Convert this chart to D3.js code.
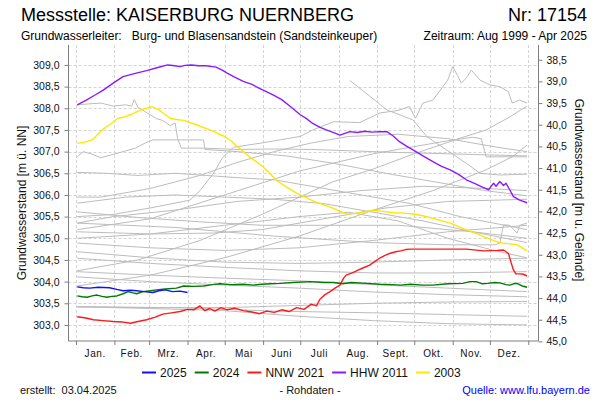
<!DOCTYPE html>
<html><head><meta charset="utf-8">
<script src="https://cdn.jsdelivr.net/npm/d3@7"></script>
<style>body{margin:0;background:#fff}svg{display:block;font-family:Arial,"Liberation Sans",sans-serif}</style>
</head><body><svg id="c" width="600" height="400"></svg>
<script>
// ---------- data (day of year, level m ü. NN) ----------
const monthLabels = ["Jan.","Feb.","Mrz.","Apr.","Mai","Juni","Juli","Aug.","Sept.","Okt.","Nov.","Dez."];
const monthStarts = [0,31,59,90,120,151,181,212,243,273,304,334,365];
const leftTicks = [303.0,303.5,304.0,304.5,305.0,305.5,306.0,306.5,307.0,307.5,308.0,308.5,309.0];
const rightTicks = [38.5,39.0,39.5,40.0,40.5,41.0,41.5,42.0,42.5,43.0,43.5,44.0,44.5,45.0];
const groundLevel = 347.62;
const legendLabels = ["2025","2024","NNW 2021","HHW 2011","2003"];
const legendColors = ["#1010ff","#007a00","#ff1a1a","#8c1aff","#ffe600"];

const s2025 = [[1,303.88],[6,303.86],[11,303.85],[18,303.87],[27,303.86],[33,303.82],[38,303.79],[44,303.8],[49,303.79],[55,303.77],[62,303.75],[67,303.79],[72,303.81],[78,303.77],[84,303.78],[90,303.75]];
const s2024 = [[1,303.67],[5,303.65],[9,303.64],[13,303.67],[17,303.69],[21,303.66],[25,303.64],[29,303.66],[33,303.67],[38,303.72],[42,303.77],[46,303.74],[49,303.72],[54,303.77],[60,303.79],[65,303.81],[72,303.83],[81,303.85],[87,303.9],[95,303.89],[103,303.9],[110,303.93],[116,303.95],[125,303.93],[135,303.94],[143,303.92],[150,303.94],[157,303.95],[165,303.96],[175,303.98],[189,304.0],[200,303.98],[208,303.98],[215,303.95],[222,303.98],[235,303.96],[245,303.94],[255,303.93],[262,303.92],[270,303.94],[280,303.92],[288,303.92],[300,303.95],[312,303.96],[318,304.0],[323,304.0],[328,303.95],[332,303.96],[338,303.98],[342,303.97],[347,303.93],[350,303.92],[353,303.95],[356,303.96],[360,303.9],[364,303.87]];
const s2021 = [[1,303.19],[8,303.16],[14,303.12],[22,303.1],[30,303.08],[37,303.07],[44,303.04],[50,303.08],[57,303.12],[64,303.18],[70,303.25],[77,303.28],[84,303.31],[90,303.36],[95,303.35],[100,303.44],[104,303.33],[108,303.38],[112,303.32],[117,303.4],[122,303.35],[128,303.39],[135,303.33],[142,303.3],[148,303.26],[154,303.32],[160,303.29],[166,303.35],[172,303.31],[178,303.4],[184,303.36],[190,303.48],[194,303.44],[197,303.6],[201,303.7],[205,303.77],[209,303.85],[213,303.92],[216,304.08],[218,304.15],[223,304.2],[228,304.27],[232,304.32],[237,304.38],[241,304.46],[245,304.54],[249,304.6],[253,304.65],[258,304.69],[262,304.71],[266,304.74],[270,304.75],[288,304.75],[315,304.75],[329,304.71],[340,304.72],[345,304.73],[349,304.65],[351,304.45],[353,304.27],[355,304.18],[358,304.18],[361,304.17],[364,304.13]];
const s2011 = [[1,308.08],[8,308.18],[15,308.3],[22,308.42],[30,308.58],[38,308.73],[47,308.8],[57,308.87],[66,308.94],[74,309.0],[80,308.98],[84,308.96],[88,308.99],[93,309.0],[99,308.98],[105,308.98],[113,308.95],[118,308.88],[122,308.81],[128,308.72],[135,308.62],[142,308.55],[148,308.46],[154,308.38],[159,308.31],[166,308.2],[173,308.04],[181,307.85],[186,307.76],[191,307.65],[197,307.56],[202,307.5],[208,307.44],[213,307.38],[217,307.42],[221,307.46],[227,307.44],[233,307.47],[239,307.45],[245,307.46],[251,307.46],[256,307.36],[261,307.23],[267,307.12],[272,307.04],[280,306.9],[288,306.77],[295,306.66],[302,306.58],[309,306.47],[315,306.35],[322,306.26],[328,306.18],[333,306.12],[335,306.2],[337,306.27],[339,306.2],[342,306.31],[345,306.22],[347,306.27],[350,306.12],[353,305.96],[358,305.88],[364,305.82]];
const s2003 = [[1,307.19],[7,307.22],[13,307.27],[17,307.38],[21,307.5],[27,307.62],[34,307.77],[39,307.8],[44,307.85],[52,307.96],[57,308.0],[61,308.04],[66,307.98],[71,307.88],[76,307.77],[81,307.74],[87,307.72],[97,307.62],[108,307.5],[119,307.36],[125,307.25],[130,307.12],[140,306.88],[151,306.65],[157,306.48],[163,306.31],[170,306.18],[178,306.04],[185,305.95],[192,305.85],[200,305.77],[208,305.69],[218,305.56],[223,305.57],[229,305.59],[240,305.64],[248,305.62],[256,305.59],[265,305.58],[272,305.56],[280,305.52],[288,305.46],[302,305.35],[312,305.23],[320,305.14],[329,305.04],[335,304.97],[342,304.9],[350,304.87],[356,304.85],[360,304.78],[364,304.71]];

const hist01 = [[1,308.08],[10,308.1],[20,308.12],[30,308.05],[40,308.08],[45,308.05],[47,308.2],[50,308.02],[57,307.9],[65,307.76],[70,307.72],[76,307.6],[80,307.66],[82,307.3],[85,307.08],[103,307.08],[130,307.05],[160,307.06],[190,307.05],[220,307.02],[260,306.98],[300,306.95],[364,306.9]];
const hist02 = [[1,306.88],[6,307.0],[12,306.95],[20,306.86],[28,306.92],[38,307.0],[48,307.08],[56,307.2],[62,307.27],[103,307.27],[104,307.05],[130,307.0],[170,306.9],[210,306.72],[250,306.5],[290,306.3],[330,306.1],[364,305.98]];
const hist03 = [[221,308.64],[234,308.35],[251,307.96],[272,307.73],[283,307.35],[299,307.04],[315,306.73],[326,306.5],[342,306.46],[364,306.48]];
const hist04 = [[1,305.5],[30,305.55],[60,305.7],[92,305.88],[100,306.1],[111,306.5],[118,306.85],[127,307.1],[150,307.2],[181,307.35],[191,307.5],[208,307.69],[229,307.67],[245,307.89],[260,307.95],[269,308.04],[274,307.77],[280,308.12],[288,308.19],[294,308.42],[300,308.65],[304,308.96],[308,308.75],[311,308.58],[315,308.7],[319,308.88],[326,308.65],[334,308.54],[342,308.5],[349,308.38],[352,308.12],[358,308.19],[364,308.12]];
const hist05 = [[1,304.25],[50,304.5],[100,304.95],[150,305.55],[207,306.3],[240,306.6],[270,306.92],[310,307.31],[331,307.5],[350,307.8],[364,308.05]];
const hist06 = [[1,305.2],[60,305.45],[120,306.0],[180,306.55],[240,306.95],[300,307.25],[320,307.33],[327,307.3],[331,306.88],[364,306.88]];
const hist07 = [[1,303.9],[60,304.15],[120,304.55],[180,305.05],[240,305.65],[288,306.1],[331,306.58],[352,306.88],[364,307.15]];
const hist08 = [[1,305.35],[80,305.25],[160,305.05],[240,304.9],[300,304.85],[338,304.85],[342,304.89],[345,305.31],[350,305.3],[356,305.12],[358,305.3],[364,305.35]];
const hist09 = [[1,305.81],[40,305.95],[80,306.0],[120,305.95],[160,305.9],[200,305.8],[240,305.6],[280,305.4],[320,305.15],[364,304.9]];
const hist10 = [[1,305.61],[50,305.48],[100,305.38],[150,305.3],[200,305.3],[260,305.3],[320,305.15],[364,305.0]];
const hist11 = [[1,305.35],[30,305.5],[80,305.65],[130,305.85],[180,305.95],[230,306.1],[280,306.2],[330,306.15],[364,306.1]];
const hist12 = [[1,305.15],[60,305.1],[110,305.12],[150,305.2],[200,305.45],[250,305.7],[300,305.85],[364,305.9]];
const hist13 = [[1,304.89],[60,304.78],[120,304.72],[180,304.78],[240,304.95],[300,305.15],[364,305.3]];
const hist14 = [[1,304.69],[60,304.55],[120,304.45],[180,304.42],[240,304.45],[300,304.5],[364,304.54]];
const hist15 = [[1,304.54],[60,304.42],[120,304.33],[180,304.25],[240,304.2],[300,304.2],[364,304.23]];
const hist16 = [[1,304.23],[60,304.15],[120,304.08],[180,304.02],[240,303.93],[300,303.85],[364,303.77]];
const hist17 = [[1,304.11],[60,304.0],[120,303.92],[180,303.85],[240,303.76],[300,303.7],[364,303.65]];
const hist18 = [[1,303.42],[60,303.4],[120,303.4],[180,303.45],[240,303.5],[300,303.53],[364,303.54]];
const hist19 = [[1,303.42],[80,303.4],[160,303.32],[240,303.28],[300,303.24],[364,303.2]];
const hist20 = [[1,303.42],[60,303.38],[120,303.33],[180,303.2],[240,303.1],[300,303.03],[364,303.0]];
const hist21 = [[1,306.52],[25,306.5],[50,306.45],[80,306.5],[105,306.45],[130,306.4],[160,306.35],[190,306.2],[230,306.0],[270,305.8],[310,305.5],[364,305.2]];
const hist22 = [[1,305.95],[20,305.95],[60,306.15],[100,306.45],[130,306.75],[160,307.0],[190,307.2],[220,307.35],[260,307.4],[300,307.3],[340,307.1],[364,307.0]];
const hist23 = [[1,305.0],[60,305.1],[120,305.3],[180,305.5],[220,305.6],[260,305.4],[300,305.0],[340,304.7],[364,304.55]];
const historyLines = [hist01,hist02,hist03,hist04,hist05,hist06,hist07,hist08,hist09,hist10,hist11,hist12,hist13,hist14,hist15,hist16,hist17,hist18,hist19,hist20,hist21,hist22,hist23];
const highlighted = [s2003,s2011,s2021,s2024,s2025];
const highlightedColors = ["#ffe600","#8c1aff","#ff1a1a","#007a00","#1010ff"];

// ---------- layout ----------
const svg = d3.select("#c");
const P = {l:68.5, r:538.5, t:45, b:341};
const x = d3.scaleLinear().domain([0,365]).range([76,528.3]);
const y = d3.scaleLinear().domain([302.63,309.46]).range([P.b,P.t]);
const yr = d3.scaleLinear().domain([groundLevel-302.63, groundLevel-309.46]).range([P.b,P.t]);

svg.append("rect").attr("width",600).attr("height",400).attr("fill","#fff");

// grid
const grid = svg.append("g").attr("stroke","#d4d4d4").attr("stroke-dasharray","3,2").attr("stroke-width",1);
leftTicks.forEach(v=>grid.append("line").attr("x1",P.l).attr("x2",P.r).attr("y1",Math.round(y(v))+0.5).attr("y2",Math.round(y(v))+0.5));
monthStarts.forEach(d=>grid.append("line").attr("y1",P.t).attr("y2",P.b).attr("x1",Math.round(x(d))+0.5).attr("x2",Math.round(x(d))+0.5));

// lines
svg.append("clipPath").attr("id","pc").append("rect").attr("x",P.l).attr("y",P.t).attr("width",P.r-P.l).attr("height",P.b-P.t);
const line = d3.line().x(d=>x(d[0])).y(d=>y(d[1]));
const lg = svg.append("g").attr("clip-path","url(#pc)").attr("fill","none");
historyLines.forEach(s=>lg.append("path").attr("d",line(s)).attr("stroke","#bcbcbc").attr("stroke-width",1));
highlighted.forEach((s,i)=>lg.append("path").attr("d",line(s)).attr("stroke",highlightedColors[i]).attr("stroke-width",1.4).attr("stroke-linejoin","round"));

// axes
const axC = "#7f7f7f";
const yAxisL = d3.axisLeft(y).tickValues(leftTicks).tickSize(4).tickFormat(v=>d3.format(".1f")(v).replace(".",","));
const gL = svg.append("g").attr("transform",`translate(${P.l},0)`).call(yAxisL);
const yAxisR = d3.axisRight(yr).tickValues(rightTicks).tickSize(4).tickFormat(v=>d3.format(".1f")(v).replace(".",","));
const gR = svg.append("g").attr("transform",`translate(${P.r},0)`).call(yAxisR);
const xAxis = d3.axisBottom(x).tickValues(monthStarts).tickSize(4).tickFormat("");
const gX = svg.append("g").attr("transform",`translate(0,${P.b})`).call(xAxis);
[gL,gR,gX].forEach(g=>{
  g.select(".domain").remove();
  g.selectAll(".tick line").attr("stroke",axC);
  g.selectAll("text").attr("font-size","10.5px").attr("fill","#111").attr("font-family","Arial, 'Liberation Sans', sans-serif");
});
gL.selectAll("text").attr("x",-9);
gR.selectAll("text").attr("x",8);
svg.append("line").attr("x1",P.l).attr("x2",P.l).attr("y1",P.t).attr("y2",P.b).attr("stroke",axC);
svg.append("line").attr("x1",P.r).attr("x2",P.r).attr("y1",P.t).attr("y2",P.b).attr("stroke",axC);
svg.append("line").attr("x1",P.l).attr("x2",P.r).attr("y1",P.b).attr("y2",P.b).attr("stroke",axC);

// month labels
monthLabels.forEach((m,i)=>{
  svg.append("text").attr("x",x((monthStarts[i]+monthStarts[i+1])/2)).attr("y",357)
    .attr("text-anchor","middle").attr("font-size","10px").attr("letter-spacing","0.6px").attr("fill","#111").text(m);
});

// axis titles
svg.append("text").attr("transform","translate(26,203) rotate(-90)").attr("text-anchor","middle").attr("font-size","12px").attr("fill","#111").text("Grundwasserstand [m ü. NN]");
svg.append("text").attr("transform","translate(575,190) rotate(90)").attr("text-anchor","middle").attr("font-size","12px").attr("fill","#111").text("Grundwasserstand [m u. Gelände]");

// titles
svg.append("text").attr("x",21).attr("y",21).attr("font-size","18px").attr("fill","#000").text("Messstelle: KAISERBURG NUERNBERG");
svg.append("text").attr("x",587).attr("y",21).attr("text-anchor","end").attr("font-size","18px").attr("fill","#000").text("Nr: 17154");
svg.append("text").attr("x",21).attr("y",40).attr("font-size","12px").attr("fill","#000").attr("xml:space","preserve").text("Grundwasserleiter:   Burg- und Blasensandstein (Sandsteinkeuper)");
svg.append("text").attr("x",587).attr("y",40).attr("text-anchor","end").attr("font-size","12px").attr("fill","#000").text("Zeitraum: Aug 1999 - Apr 2025");

// legend
let lx = 142;
legendLabels.forEach((t,i)=>{
  svg.append("line").attr("x1",lx).attr("x2",lx+14).attr("y1",372.5).attr("y2",372.5).attr("stroke",legendColors[i]).attr("stroke-width",2);
  const tx = svg.append("text").attr("x",lx+18).attr("y",377).attr("font-size","12px").attr("fill","#111").text(t);
  lx += 18 + tx.node().getComputedTextLength() + 8;
});

// footer
svg.append("text").attr("x",20).attr("y",394).attr("font-size","11px").attr("fill","#111").attr("xml:space","preserve").text("erstellt:  03.04.2025");
svg.append("text").attr("x",310).attr("y",394).attr("text-anchor","middle").attr("font-size","11px").attr("fill","#111").text("- Rohdaten -");
svg.append("text").attr("x",590).attr("y",394).attr("text-anchor","end").attr("font-size","11px").attr("fill","#0000ff").text("Quelle: www.lfu.bayern.de");
</script></body></html>
